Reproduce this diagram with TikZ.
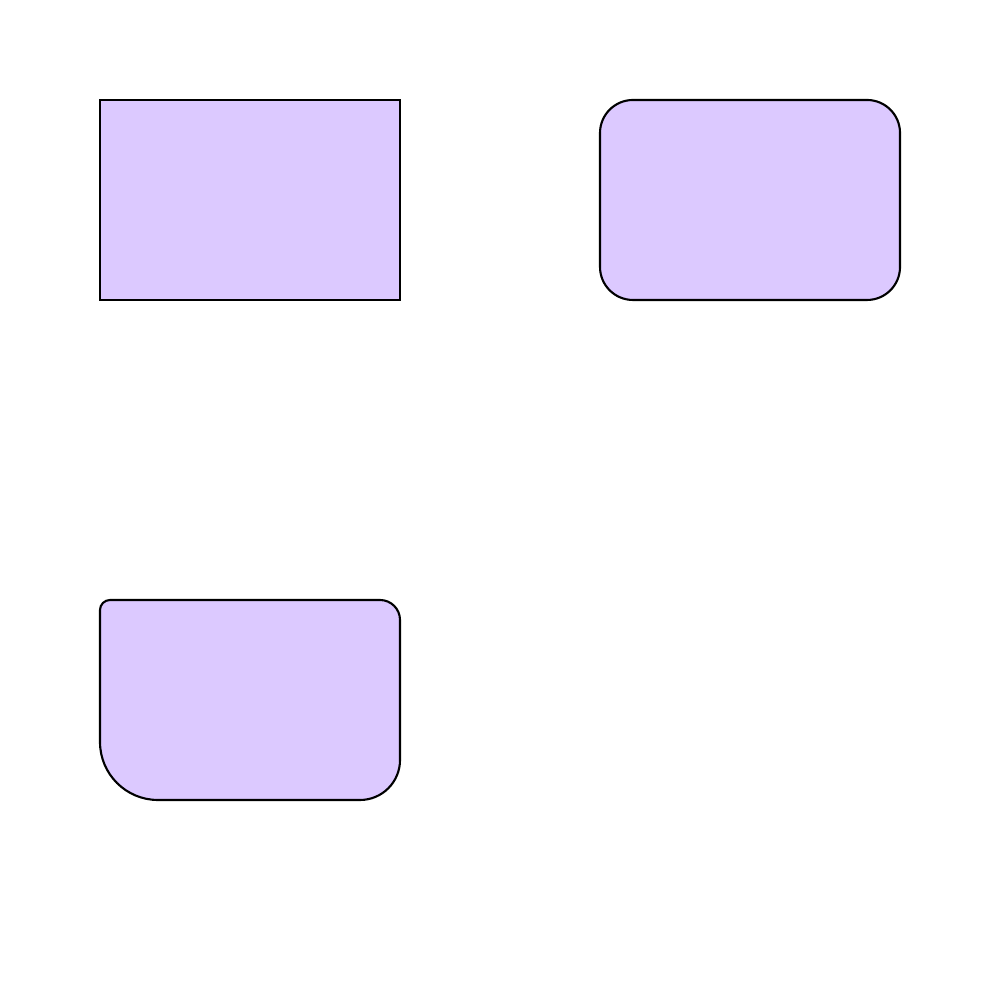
\documentclass[tikz,border=0pt]{standalone}
\usepackage{xcolor}
\usepackage{tikz}
\usetikzlibrary{positioning}
\definecolor{BoxLilac}{RGB}{220,201,255}

\begin{document}
\begin{tikzpicture}[
      box/.style={rectangle, draw=black, fill=BoxLilac, line width=0.6pt,
                  minimum width=3cm, minimum height=2cm,
                  inner sep=0pt, outer sep=0pt},
      roundbox/.style={box, rounded corners=0.33cm},
      mixedbox/.style={draw=black, fill=BoxLilac, line width=0.6pt}
    ]
    \useasboundingbox (0,0) rectangle (10,10);

    % Boxes
    \node[box]      (plain) at (2.5,8) {};
    \node[roundbox] (round) at (7.5,8) {};

    % Box with a different radius on every corner
    \draw[mixedbox] (1,3) -- (1,3.9)
        arc[start angle=180, end angle=90,  radius=0.1]  -- (3.8,4)
        arc[start angle=90,  end angle=0,   radius=0.2]  -- (4,2.4)
        arc[start angle=0,   end angle=-90, radius=0.4]  -- (1.58,2)
        arc[start angle=270, end angle=180, radius=0.58] -- cycle;
  \end{tikzpicture}
\end{document}
